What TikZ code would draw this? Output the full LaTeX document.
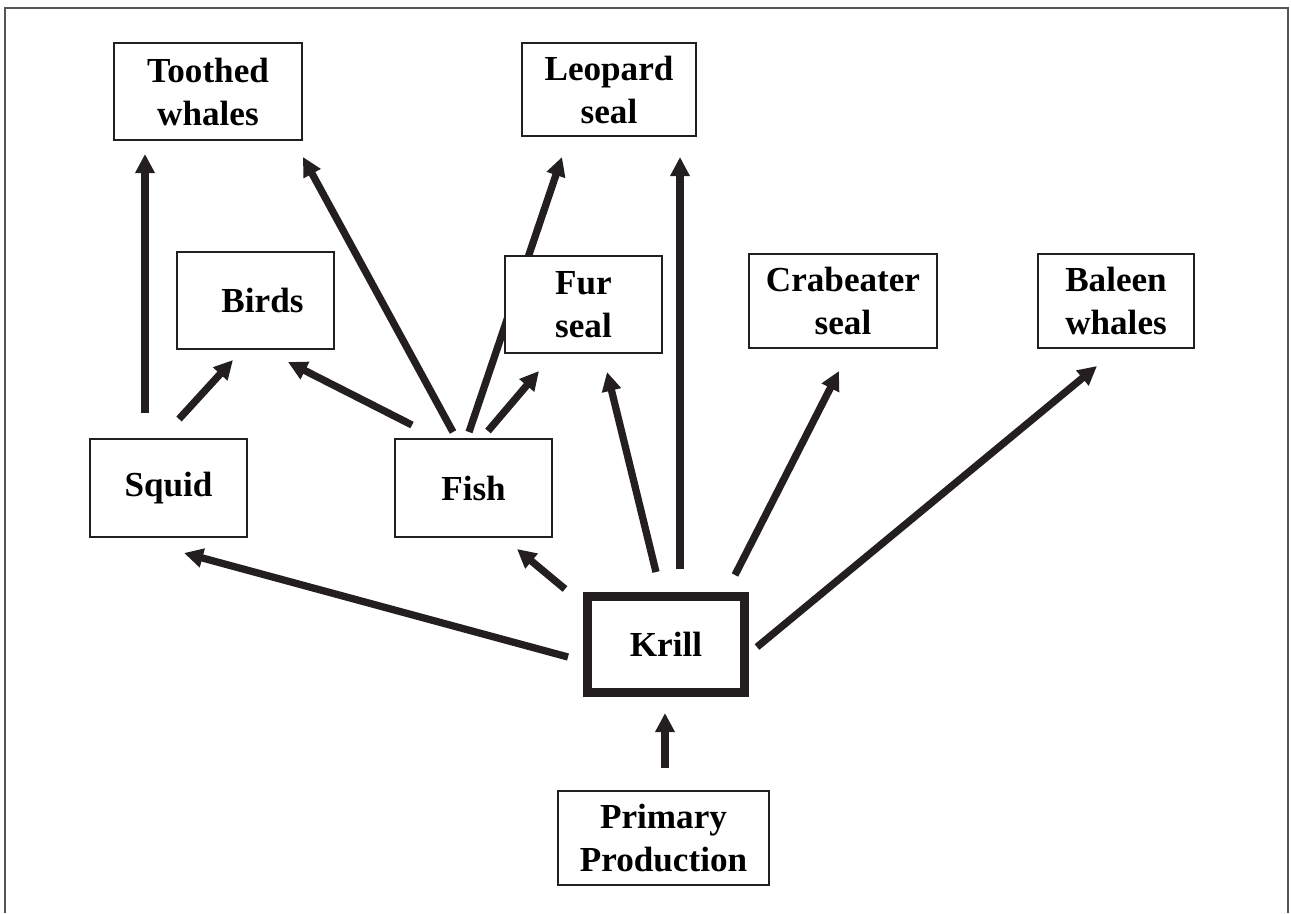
\documentclass[tikz,border=0pt]{standalone}
\usepackage{fontspec}
\setmainfont{Liberation Serif}
\usetikzlibrary{arrows.meta,backgrounds}
\definecolor{ink}{HTML}{231F20}
\definecolor{framegray}{HTML}{555555}
\tikzset{
  foodbox/.style={draw=ink, line width=0.04cm, fill=white, align=center, inner sep=0pt,
    font=\fontsize{20}{24.5}\selectfont\bfseries, text=black},
  krillbox/.style={foodbox, line width=0.18cm},
  feeds/.style={draw=ink, line width=0.146cm, -{Triangle[length=0.38cm,width=0.37cm]}}
}
\begin{document}
\begin{tikzpicture}[x=0.02cm,y=-0.02cm]
\useasboundingbox (0,0) rectangle (1291,913);
\draw[framegray, line width=0.045cm] (5,913) -- (5,8) -- (1288,8) -- (1288,913);

\node[foodbox, minimum width=3.76cm, minimum height=1.94cm] (toothed) at (208,91.5) {Toothed\\whales};
\node[foodbox, minimum width=3.48cm, minimum height=1.86cm] (leopard) at (609,89.5) {Leopard\\seal};
\node[foodbox, minimum width=3.14cm, minimum height=1.94cm] (birds) at (255.5,300.5) {\hspace{0.28cm}Birds};
\node[foodbox, minimum width=3.14cm, minimum height=1.94cm] (fur) at (583.5,304.5) {Fur\\seal};
\node[foodbox, minimum width=3.76cm, minimum height=1.88cm] (crab) at (843,301) {Crabeater\\seal};
\node[foodbox, minimum width=3.12cm, minimum height=1.90cm] (baleen) at (1116,301) {Baleen\\whales};
\node[foodbox, minimum width=3.14cm, minimum height=1.96cm] (squid) at (168.5,488) {\raisebox{-0.06cm}{Squid}};
\node[foodbox, minimum width=3.14cm, minimum height=1.96cm] (fish) at (473.5,488) {\raisebox{-0.04cm}{Fish}};
\node[krillbox, minimum width=3.14cm, minimum height=1.92cm] (krill) at (666,644.5) {Krill};
\node[foodbox, minimum width=4.22cm, minimum height=1.88cm] (primary) at (663.5,838) {Primary\\Production};

% arrow end points
\coordinate (sqA) at (145,413);  \coordinate (twA) at (145,154);
\coordinate (sqB) at (179,419);  \coordinate (biB) at (233,360);
\coordinate (fiC) at (412,425);  \coordinate (biC) at (288,362);
\coordinate (fiD) at (453,432);  \coordinate (twD) at (303,157);
\coordinate (fiE) at (469,432);  \coordinate (leE) at (562,157);
\coordinate (fiF) at (488,431);  \coordinate (fuF) at (539,371);
\coordinate (krG) at (656,572);  \coordinate (fuG) at (607,372);
\coordinate (krH) at (680,569);  \coordinate (leH) at (680,157);
\coordinate (krI) at (735,575);  \coordinate (crI) at (839,371);
\coordinate (krJ) at (757,647);  \coordinate (baJ) at (1097,366);
\coordinate (krK) at (568,657);  \coordinate (sqK) at (184,553);
\coordinate (krL) at (565,589);  \coordinate (fiL) at (517,549);
\coordinate (prM) at (665,768);  \coordinate (krM) at (665,713);

\begin{scope}[on background layer]
\draw[feeds] (sqA) -- (twA);
\draw[feeds] (sqB) -- (biB);
\draw[feeds] (fiC) -- (biC);
\draw[feeds] (fiD) -- (twD);
\draw[feeds] (fiE) -- (leE);
\draw[feeds] (fiF) -- (fuF);
\draw[feeds] (krG) -- (fuG);
\draw[feeds] (krH) -- (leH);
\draw[feeds] (krI) -- (crI);
\draw[feeds] (krJ) -- (baJ);
\draw[feeds] (krK) -- (sqK);
\draw[feeds] (krL) -- (fiL);
\draw[feeds] (prM) -- (krM);
\end{scope}
\end{tikzpicture}
\end{document}
